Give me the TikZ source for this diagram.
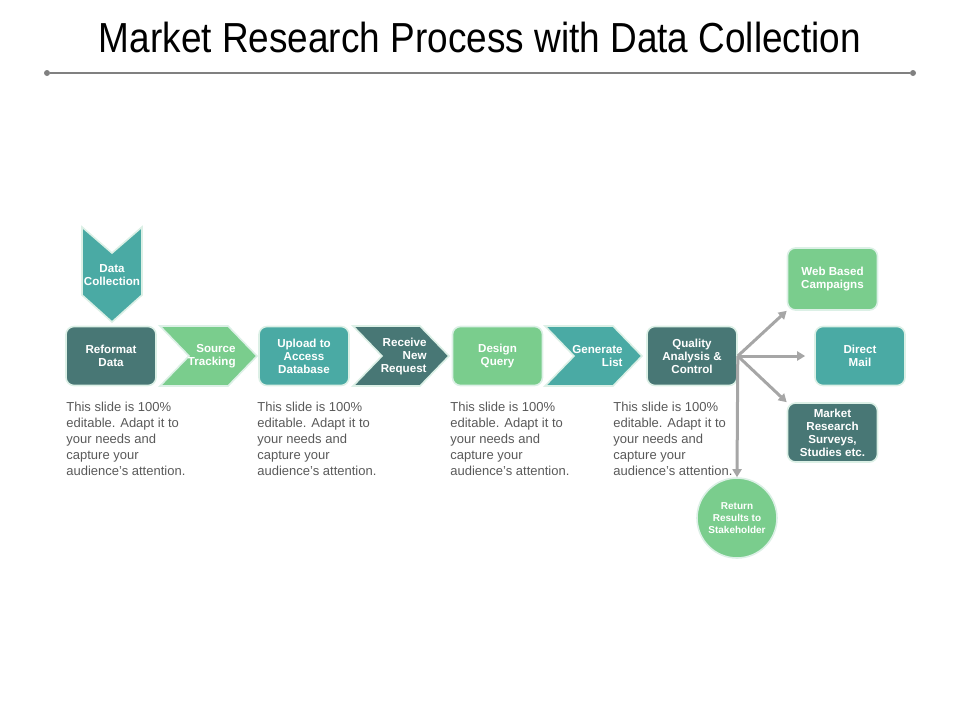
\documentclass[tikz,border=0pt]{standalone}
\usepackage{fontspec}
\setmainfont{Liberation Sans}
\newfontfamily\titlefont{Liberation Sans}[FakeStretch=0.88]
\usepackage{xcolor}
\usepackage{tikz}
\usetikzlibrary{arrows.meta}

\definecolor{darkteal}{RGB}{72,119,117}
\definecolor{midteal}{RGB}{74,170,164}
\definecolor{leafgreen}{RGB}{122,205,141}
\definecolor{boxedge}{RGB}{220,240,230}
\definecolor{bodygray}{RGB}{89,89,89}
\definecolor{arrowgray}{RGB}{166,166,166}
\definecolor{rulegray}{RGB}{128,128,128}

\tikzset{
    boxtext/.style={text=white,font=\bfseries\fontsize{5.8}{6.5}\selectfont,align=center,inner sep=1pt},
    stepbox/.style={rectangle,rounded corners=4pt,draw=boxedge,line width=0.8pt,minimum width=45pt,minimum height=29.5pt,boxtext},
    chevedge/.style={draw=boxedge,line width=0.8pt},
    note/.style={anchor=north west,align=left,inner sep=0pt,text=bodygray,font=\fontsize{6.5}{8}\selectfont},
    enddot/.style={circle,fill=rulegray,inner sep=0pt,minimum size=3pt},
    link/.style={draw=arrowgray,line width=1.5pt,-{Triangle[length=4pt,width=4.5pt]}}
}

\begin{document}
\begin{tikzpicture}[x=0.5pt,y=-0.5pt]
    \useasboundingbox (0,0) rectangle (960,720);
    \node[anchor=base,inner sep=0pt,font=\titlefont\fontsize{21}{24}\selectfont] (title) at (480,52) {Market Research Process with Data Collection};
    \node[enddot] (ruleL) at (47,73) {};
    \node[enddot] (ruleR) at (913,73) {};
    \draw[rulegray,line width=0.7pt] (ruleL) -- (ruleR);

    \draw[chevedge,fill=midteal] (82,227) -- (112,253) -- (142,227) -- (142,295) -- (112,322) -- (82,295) -- cycle;
    \node[boxtext] (collect) at (112,275) {Data\\Collection};

    \node[stepbox,fill=darkteal] (reformat) at (111,356) {Reformat\\Data};
    \draw[chevedge,fill=leafgreen] (160,326) -- (228,326) -- (257,356) -- (228,386) -- (160,386) -- (189,356) -- cycle;
    \node[boxtext,align=right,anchor=east] (source) at (238,356) {Source\\Tracking};
    \node[stepbox,fill=midteal] (upload) at (304,356) {Upload to\\Access\\Database};
    \draw[chevedge,fill=darkteal] (353,326) -- (420,326) -- (449,356) -- (420,386) -- (353,386) -- (382,356) -- cycle;
    \node[boxtext,align=right,anchor=east] (receive) at (429,356) {Receive\\New\\Request};
    \node[stepbox,fill=leafgreen] (design) at (497.5,356) {Design\\Query};
    \draw[chevedge,fill=midteal] (545,326) -- (613,326) -- (642,356) -- (613,386) -- (545,386) -- (574,356) -- cycle;
    \node[boxtext,align=right,anchor=east] (generate) at (625,356) {Generate\\List};
    \node[stepbox,fill=darkteal] (quality) at (692,356) {Quality\\Analysis \&\\Control};

    \node[stepbox,fill=leafgreen,minimum height=31pt] (web) at (832.5,279) {Web Based\\Campaigns};
    \node[stepbox,fill=midteal] (mail) at (860,356) {Direct\\Mail};
    \node[stepbox,fill=darkteal] (survey) at (832.5,432.5) {Market\\Research\\Surveys,\\Studies etc.};
    \node[circle,draw=boxedge,line width=0.8pt,fill=leafgreen,minimum size=40pt,boxtext,font=\bfseries\fontsize{5}{6}\selectfont] (result) at (737,518) {Return\\Results to\\Stakeholder};

    \draw[link] (quality.east) -- (web.south west);
    \draw[link,shorten >=4.5pt] (quality.east) -- (mail.west);
    \draw[link] (quality.east) -- (survey.north west);
    \draw[link] (quality.east) -- (result.north);

    \node[note] (note1) at (66,402) {This slide is 100\%\\editable. Adapt it to\\your needs and\\capture your\\audience’s attention.};
    \node[note] (note2) at (257,402) {This slide is 100\%\\editable. Adapt it to\\your needs and\\capture your\\audience’s attention.};
    \node[note] (note3) at (450,402) {This slide is 100\%\\editable. Adapt it to\\your needs and\\capture your\\audience’s attention.};
    \node[note] (note4) at (613,402) {This slide is 100\%\\editable. Adapt it to\\your needs and\\capture your\\audience’s attention.};
\end{tikzpicture}
\end{document}
